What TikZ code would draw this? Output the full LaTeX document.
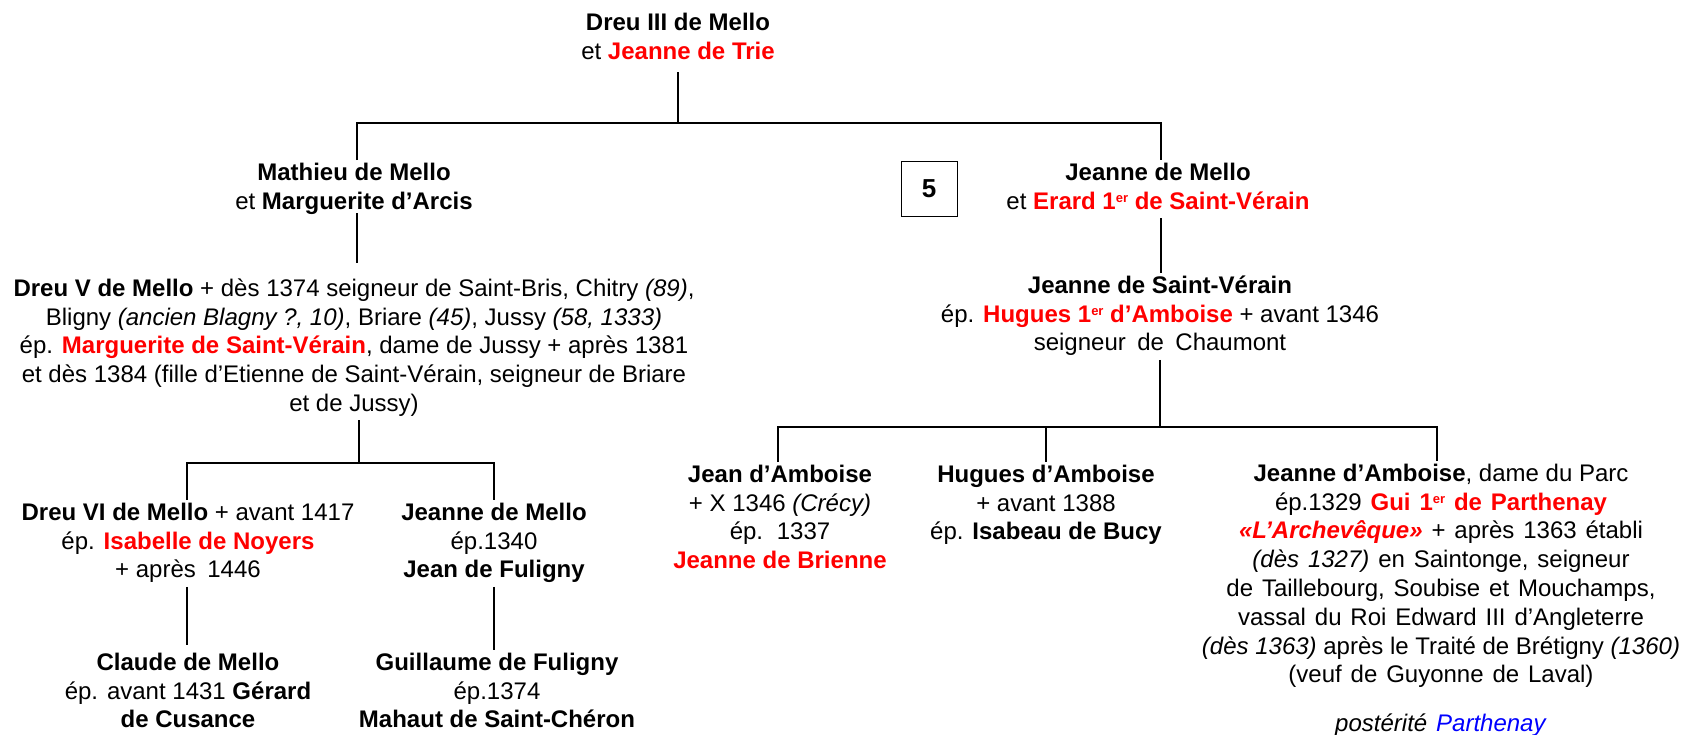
\documentclass[tikz,border=0pt]{standalone}
\usepackage{fontspec}
\setmainfont{Liberation Sans}
\definecolor{rd}{RGB}{255,0,0}
\definecolor{bl}{RGB}{0,0,255}
\newcommand{\rn}[1]{\textcolor{rd}{\textbf{#1}}}
\newcommand{\widesp}{\spaceskip=0.37em\relax}
\newcommand{\ersup}{\raisebox{7pt}{\fontsize{13}{13}\selectfont er}}
\begin{document}
\begin{tikzpicture}[x=1pt,y=-1pt,
  person/.style={align=center, inner sep=0pt, anchor=north, font=\fontsize{24}{28.8}\selectfont},
  wide/.style={font=\fontsize{24}{28.8}\selectfont\widesp},
  link/.style={line width=2pt, line join=miter}]
\useasboundingbox (0,0) rectangle (1682,734);

% persons
\node[person] (t) at (678,10) {\strut\textbf{Dreu III de Mello}\\et \rn{Jeanne de Trie}\strut};
\node[person] (mat) at (354,160) {\strut\textbf{Mathieu de Mello}\\et \textbf{Marguerite d’Arcis}\strut};
\node[person] (jm) at (1158,160) {\strut\textbf{Jeanne de Mello}\\et \rn{Erard 1\ersup{} de Saint-Vérain}\strut};
\node[draw, line width=1pt, inner sep=0pt, minimum width=56pt, minimum height=55pt,
  font=\bfseries\fontsize{26}{30}\selectfont] (b5) at (929,188.5) {5};

\node[person] (d5) at (354,276) {\strut\textbf{Dreu V de Mello} + dès 1374 seigneur de Saint-Bris, Chitry \textit{(89)},\\
  Bligny \textit{(ancien Blagny ?, 10)}, Briare \textit{(45)}, Jussy \textit{(58, 1333)}\\
  ép. \rn{Marguerite de Saint-Vérain}, dame de Jussy + après 1381\\
  et dès 1384 (fille d’Etienne de Saint-Vérain, seigneur de Briare\\
  et de Jussy)\strut};

\node[person] (jsv) at (1160,273) {\strut\textbf{Jeanne de Saint-Vérain}\\
  ép. \rn{Hugues 1\ersup{} d’Amboise} + avant 1346\\
  seigneur\hspace{0.2em} de\hspace{0.2em} Chaumont\strut};

\node[person] (d6) at (188,500) {\strut\textbf{Dreu VI de Mello} + avant 1417\\
  ép. \rn{Isabelle de Noyers}\\+ après\hspace{0.2em} 1446\strut};
\node[person] (jml) at (494,500) {\strut\textbf{Jeanne de Mello}\\ép.1340\\\textbf{Jean de Fuligny}\strut};
\node[person] (cl) at (188,650) {\strut\textbf{Claude de Mello}\\ép. avant 1431 \textbf{Gérard}\\\textbf{de Cusance}\strut};
\node[person] (gf) at (497,650) {\strut\textbf{Guillaume de Fuligny}\\ép.1374\\\textbf{Mahaut de Saint-Chéron}\strut};

\node[person] (ja) at (780,462) {\strut\textbf{Jean d’Amboise}\\+ X 1346 \textit{(Crécy)}\\
  ép.\hspace{0.2em} 1337\\\rn{Jeanne de Brienne}\strut};
\node[person] (ha) at (1046,462) {\strut\textbf{Hugues d’Amboise}\\+ avant 1388\\ép. \textbf{Isabeau de Bucy}\strut};
\node[person, wide] (jam) at (1441,461) {\strut{\spaceskip=0pt\textbf{Jeanne d’Amboise}, dame du Parc}\\
  ép.1329 \rn{Gui 1\ersup{} de Parthenay}\\
  \textcolor{rd}{\textbf{\textit{«L’Archevêque»}}} + après 1363 établi\\
  \textit{(dès 1327)} en Saintonge, seigneur\\
  de Taillebourg, Soubise et Mouchamps,\\
  vassal du Roi Edward III d’Angleterre\\
  {\spaceskip=0pt\textit{(dès 1363)} après le Traité de Brétigny \textit{(1360)}}\\
  (veuf de Guyonne de Laval)\strut};
\node[person, wide] (post) at (1441,711) {\strut\textit{postérité} \textcolor{bl}{\textit{Parthenay}}};

% junctions
\coordinate (tj) at (678,123);
\coordinate (jl) at (357,123);
\coordinate (jr) at (1161,123);
\coordinate (dj) at (359,463);
\coordinate (dl) at (187,463);
\coordinate (dr) at (494,463);
\coordinate (sj) at (1160,427);
\coordinate (sl) at (778,427);
\coordinate (sm) at (1046,427);
\coordinate (sr) at (1437,427);

% connectors
\draw[link, shorten <=4pt] (t.south) -- (tj);
\draw[link] (jl |- mat.north) -- (jl) -- (jr) -- (jr |- jm.north);
\draw[link, shorten <=-5pt, shorten >=13pt] (jl |- mat.south) -- (jl |- d5.north);
\draw[link] (jr |- jm.south) -- (jr |- jsv.north);

\draw[link] (dj |- d5.south) -- (dj);
\draw[link] (dl |- d6.north) -- (dl) -- (dr) -- (dr |- jml.north);
\draw[link, shorten >=5pt] (dl |- d6.south) -- (dl |- cl.north);
\draw[link] (dr |- jml.south) -- (dr |- gf.north);

\draw[link] (sj |- jsv.south) -- (sj);
\draw[link] (sl |- ja.north) -- (sl) -- (sr) -- (sr |- jam.north);
\draw[link] (sm) -- (sm |- ha.north);
\end{tikzpicture}
\end{document}
